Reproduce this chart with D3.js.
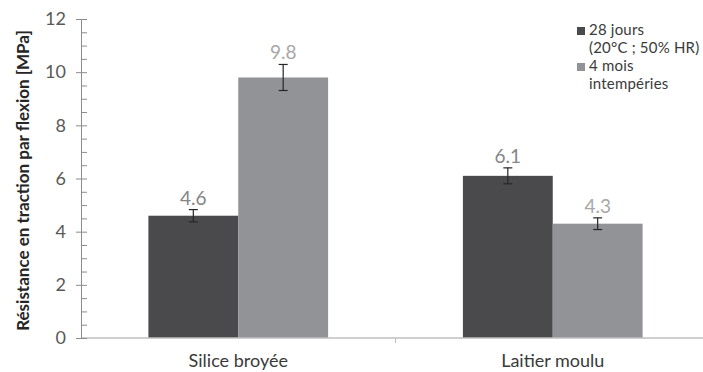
<!DOCTYPE html>
<html>
<head>
<meta charset="utf-8">
<script src="https://cdn.jsdelivr.net/npm/d3@7"></script>
<style>
  html, body { margin: 0; padding: 0; background: #fff; }
  svg { display: block; font-family: Lato, "Open Sans", sans-serif; }
</style>
</head>
<body>
<svg id="chart" width="703" height="372"></svg>
<script>
// Flexural tensile strength by binder type and curing condition
const categories = ["Silice broyée", "Laitier moulu"];
const seriesNames = ["28 jours (20°C ; 50% HR)", "4 mois intempéries"];
const legendLines = [["28 jours", "(20°C ; 50% HR)"], ["4 mois", "intempéries"]];
const values28j = [4.6, 6.1];
const values4m = [9.8, 4.3];
const errors28j = [0.23, 0.30];
const errors4m = [0.49, 0.22];
const yTicks = [0, 2, 4, 6, 8, 10, 12];

const barColors = ["#4a4a4c", "#929396"];
const labelColors = ["#858585", "#a8a8a8"];

const rows = categories.map((c, i) => ({
  category: c,
  bars: [
    { s: 0, value: values28j[i], err: errors28j[i] },
    { s: 1, value: values4m[i], err: errors4m[i] }
  ]
}));

const svg = d3.select("#chart");
const plot = { left: 81, right: 710, top: 19, bottom: 338 };

const y = d3.scaleLinear().domain([0, 12]).range([plot.bottom, plot.top]);
const x0 = d3.scaleBand().domain(categories).range([plot.left, plot.right]).padding(0);
const x1 = d3.scaleBand().domain([0, 1]).range([0, x0.bandwidth()])
  .paddingInner(0).paddingOuter(0.75);

// Bars
const groups = svg.append("g").selectAll("g").data(rows).join("g")
  .attr("transform", d => `translate(${x0(d.category)},0)`);

groups.selectAll("rect").data(d => d.bars).join("rect")
  .attr("x", d => x1(d.s))
  .attr("y", d => y(d.value))
  .attr("width", x1.bandwidth())
  .attr("height", d => y(0) - y(d.value))
  .attr("fill", d => barColors[d.s]);

// Error bars
const eb = groups.selectAll("g.err").data(d => d.bars).join("g").attr("class", "err")
  .attr("stroke", "#262626").attr("stroke-width", 1.2);
eb.append("line")
  .attr("x1", d => x1(d.s) + x1.bandwidth() / 2)
  .attr("x2", d => x1(d.s) + x1.bandwidth() / 2)
  .attr("y1", d => y(d.value + d.err))
  .attr("y2", d => y(d.value - d.err));
[1, -1].forEach(sign => {
  eb.append("line")
    .attr("x1", d => x1(d.s) + x1.bandwidth() / 2 - 4.5)
    .attr("x2", d => x1(d.s) + x1.bandwidth() / 2 + 4.5)
    .attr("y1", d => y(d.value + sign * d.err))
    .attr("y2", d => y(d.value + sign * d.err));
});

// Value labels
groups.selectAll("text.val").data(d => d.bars).join("text").attr("class", "val")
  .attr("x", d => x1(d.s) + x1.bandwidth() / 2)
  .attr("y", d => y(d.value + d.err) - 5)
  .attr("text-anchor", "middle")
  .attr("font-size", 19)
  .attr("fill", d => labelColors[d.s])
  .text(d => d.value.toFixed(1));

// X axis
const xAxis = svg.append("g").attr("transform", `translate(0,${plot.bottom})`);
xAxis.append("line")
  .attr("x1", plot.left).attr("x2", plot.right)
  .attr("stroke", "#bfbfbf").attr("stroke-width", 1.5);
xAxis.selectAll("line.div").data(categories.slice(1)).join("line").attr("class", "div")
  .attr("x1", d => x0(d)).attr("x2", d => x0(d))
  .attr("y1", 0).attr("y2", 5)
  .attr("stroke", "#bfbfbf");
xAxis.selectAll("text").data(categories).join("text")
  .attr("x", d => x0(d) + x0.bandwidth() / 2)
  .attr("y", 29)
  .attr("text-anchor", "middle")
  .attr("font-size", 18)
  .attr("fill", "#3a3a3a")
  .text(d => d);

// Y axis: minor ticks on the right, labelled major ticks on the left
const minorTicks = d3.range(0, 12.001, 0.5);
const yMinor = svg.append("g").attr("transform", `translate(${plot.left},0)`)
  .call(d3.axisRight(y).tickValues(minorTicks).tickSize(6).tickFormat(""));
yMinor.select(".domain").remove();
yMinor.selectAll("line").attr("stroke", "#8c8c8c");

const yAxis = svg.append("g").attr("transform", `translate(${plot.left},0)`)
  .call(d3.axisLeft(y).tickValues(yTicks).tickSizeInner(5).tickSizeOuter(0).tickPadding(10)
    .tickFormat(d3.format("d")));
yAxis.select(".domain").attr("stroke", "#8c8c8c");
yAxis.selectAll("line").attr("stroke", "#8c8c8c");
yAxis.selectAll("text").attr("font-size", 18).attr("fill", "#595959")
  .attr("font-family", "Lato, sans-serif");

// Y axis title
svg.append("text")
  .attr("transform", `translate(29,${(plot.top + plot.bottom) / 2 + 2}) rotate(-90)`)
  .attr("text-anchor", "middle")
  .attr("font-size", 17)
  .attr("font-weight", "bold")
  .attr("fill", "#262626")
  .text("Résistance en traction par flexion [MPa]");

// Legend
const legend = svg.append("g").attr("transform", "translate(577,27)");
const items = legend.selectAll("g").data(seriesNames).join("g")
  .attr("transform", (d, i) => `translate(0,${i * 36})`);
items.append("rect").attr("width", 8).attr("height", 8)
  .attr("fill", (d, i) => barColors[i]);
items.append("text")
  .attr("x", 12).attr("y", 8)
  .attr("font-size", 15)
  .attr("letter-spacing", 0.2)
  .attr("fill", "#3a3a3a")
  .selectAll("tspan").data((d, i) => legendLines[i]).join("tspan")
  .attr("x", 12)
  .attr("dy", (d, j) => j === 0 ? 0 : 18)
  .text(d => d);
</script>
</body>
</html>
